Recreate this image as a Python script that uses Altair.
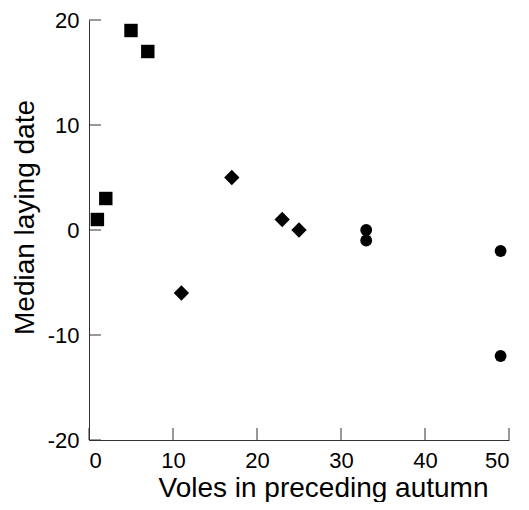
import altair as alt
import pandas as pd

# data
sq_x = [1, 2, 5, 7]
sq_y = [1, 3, 19, 17]
di_x = [11, 17, 23, 25]
di_y = [-6, 5, 1, 0]
ci_x = [33, 33, 49, 49]
ci_y = [0, -1, -2, -12]

x_ticks = [0, 10, 20, 30, 40, 50]
y_ticks = [-20, -10, 0, 10, 20]

df = pd.DataFrame({
    "x": sq_x + di_x + ci_x,
    "y": sq_y + di_y + ci_y,
    "g": ["square"] * 4 + ["diamond"] * 4 + ["circle"] * 4,
})

FONT = "Liberation Sans"
W, H = 420, 420

xs = alt.Scale(domain=[0, 50], nice=False, zero=False)
ys = alt.Scale(domain=[-20, 20], nice=False, zero=False)

base_axes = alt.Chart(df).mark_point(opacity=0).encode(
    x=alt.X("x:Q", scale=xs, axis=alt.Axis(
        title="Voles in preceding autumn", values=x_ticks, ticks=False,
        grid=False, labelFontSize=22, titleFontSize=28, labelPadding=10,
        labelExpr="datum.value",
        titleX=234, titleY=56, titleBaseline="alphabetic",
        labelFont=FONT, titleFont=FONT, titleFontWeight="normal",
        domainColor="#333", labelColor="#000", titleColor="#000")),
    y=alt.Y("y:Q", scale=ys, axis=alt.Axis(
        title="Median laying date", values=y_ticks, ticks=False,
        grid=False, labelFontSize=22, titleFontSize=28, labelPadding=10,
        labelExpr="datum.value",
        titleX=-56, titleY=197, titleBaseline="alphabetic",
        labelFont=FONT, titleFont=FONT, titleFontWeight="normal",
        domainColor="#333", labelColor="#000", titleColor="#000")),
)

xt = alt.Chart(pd.DataFrame({"v": x_ticks})).mark_rule(color="#333").encode(
    x=alt.X("v:Q", scale=xs), y=alt.value(H), y2=alt.value(H - 12))
yt = alt.Chart(pd.DataFrame({"v": y_ticks})).mark_rule(color="#333").encode(
    y=alt.Y("v:Q", scale=ys), x=alt.value(0), x2=alt.value(12))

def pts(shape, size):
    return alt.Chart(df[df.g == shape]).mark_point(
        shape=shape, filled=True, color="#000", opacity=1, size=size
    ).encode(x=alt.X("x:Q", scale=xs), y=alt.Y("y:Q", scale=ys))

chart = alt.layer(
    base_axes, xt, yt,
    pts("square", 180), pts("diamond", 235), pts("circle", 140),
).properties(
    width=W, height=H,
    autosize=alt.AutoSizeParams(type="none"),
    padding={"left": 81, "top": 12, "right": 12, "bottom": 62},
).configure_view(stroke=None)

chart.save("out.html", embed_options={"renderer": "svg", "actions": False})
